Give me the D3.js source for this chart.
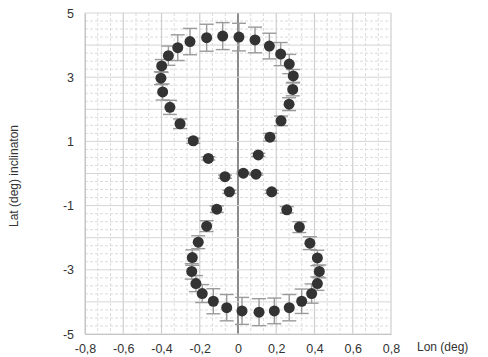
<!DOCTYPE html>
<html>
<head>
<meta charset="utf-8">
<script src="https://cdn.jsdelivr.net/npm/d3@7"></script>
<style>
  body { margin: 0; background: #fff; }
  svg { font-family: "Liberation Sans", Arial, sans-serif; }
</style>
</head>
<body>
<div id="chart"></div>
<script>
const width = 488;
const height = 357;

// figure-eight positions
const lonValues = [-0.399, -0.403, -0.394, -0.364, -0.356, -0.315, -0.303, -0.251, -0.234, -0.164,
  -0.155, -0.080, -0.068, 0.005, 0.028, 0.089, 0.094, 0.106, 0.164, 0.167,
  0.223, 0.225, 0.268, 0.267, 0.289, 0.286,
  -0.045, 0.176, -0.111, 0.255, -0.164, 0.321, -0.208, 0.376, -0.239, 0.415,
  -0.242, 0.425, -0.220, 0.415, -0.187, 0.385, -0.129, 0.333, -0.059, 0.268,
  0.021, 0.190, 0.110];
const latValues = [3.35, 2.97, 2.54, 3.67, 2.06, 3.92, 1.55, 4.11, 1.02, 4.23,
  0.47, 4.28, -0.10, 4.25, 0.01, 4.16, -0.02, 0.58, 3.97, 1.13,
  3.72, 1.64, 3.41, 2.16, 3.04, 2.62,
  -0.57, -0.57, -1.11, -1.13, -1.64, -1.67, -2.14, -2.17, -2.62, -2.63,
  -3.05, -3.05, -3.43, -3.43, -3.74, -3.74, -3.98, -3.98, -4.18, -4.18,
  -4.28, -4.28, -4.32];
const latErrors = [0.2, 0.2, 0.25, 0.3, 0.22, 0.4, 0.15, 0.41, 0.08, 0.42,
  0.05, 0.42, 0.05, 0.43, 0.03, 0.4, 0.03, 0.05, 0.4, 0.12,
  0.36, 0.15, 0.3, 0.2, 0.2, 0.2,
  0.05, 0.05, 0.1, 0.1, 0.17, 0.17, 0.2, 0.2, 0.24, 0.24,
  0.24, 0.2, 0.25, 0.21, 0.28, 0.3, 0.39, 0.38, 0.41, 0.41,
  0.42, 0.4, 0.42];

const xTicks = [-0.8, -0.6, -0.4, -0.2, 0, 0.2, 0.4, 0.6, 0.8];
const yTicks = [-5, -3, -1, 1, 3, 5];

const points = lonValues.map((d, i) => ({lon: d, lat: latValues[i], err: latErrors[i]}));

const locale = d3.formatLocale({decimal: ",", thousands: ".", grouping: [3], currency: ["", ""], minus: "-"});
const fmt = locale.format("~g");

const svg = d3.select("#chart")
  .append("svg")
  .attr("width", width)
  .attr("height", height);

var x = d3.scaleLinear().domain([-0.8, 0.8]).range([85, 391]);
var y = d3.scaleLinear().domain([-5, 5]).range([334, 13]);

// minor grid (dashed)
const xMinor = d3.range(0, 25).map(i => -0.8 + i * 0.2 / 3).filter((d, i) => i % 3 != 0);
const yMinor = d3.range(0, 41).map(i => -5 + i * 0.25).filter((d, i) => i % 4 != 0);

svg.append("g").selectAll("line")
  .data(xMinor)
  .enter().append("line")
    .attr("x1", d => x(d)).attr("x2", d => x(d))
    .attr("y1", y(5)).attr("y2", y(-5))
    .attr("stroke", "#dcdcdc")
    .attr("stroke-dasharray", "3,2");

svg.append("g").selectAll("line")
  .data(yMinor)
  .enter().append("line")
    .attr("x1", x(-0.8)).attr("x2", x(0.8))
    .attr("y1", d => y(d)).attr("y2", d => y(d))
    .attr("stroke", "#dcdcdc")
    .attr("stroke-dasharray", "3,2");

// major grid
svg.append("g").selectAll("line")
  .data(xTicks)
  .enter().append("line")
    .attr("x1", d => x(d)).attr("x2", d => x(d))
    .attr("y1", y(5)).attr("y2", y(-5))
    .attr("stroke", d => d == 0 ? "#8c8c8c" : "#cfcfcf")
    .attr("stroke-width", d => d == 0 ? 2 : 1.2);

svg.append("g").selectAll("line")
  .data(d3.range(-5, 6, 1))
  .enter().append("line")
    .attr("x1", x(-0.8)).attr("x2", x(0.8))
    .attr("y1", d => y(d)).attr("y2", d => y(d))
    .attr("stroke", "#d6d6d6")
    .attr("stroke-width", 1);

// axes
svg.append("g")
  .attr("transform", "translate(0," + y(-5) + ")")
  .call(d3.axisBottom(x).tickValues(xTicks).tickSize(0).tickPadding(10).tickFormat(fmt))
  .call(g => g.select(".domain").attr("stroke", "#c4c4c4"))
  .call(g => g.selectAll("text").attr("fill", "#333").attr("font-size", "12.5px").attr("font-family", "Liberation Sans, Arial, sans-serif"));

svg.append("g")
  .attr("transform", "translate(" + x(-0.8) + ",0)")
  .call(d3.axisLeft(y).tickValues(yTicks).tickSize(0).tickPadding(11).tickFormat(fmt))
  .call(g => g.select(".domain").attr("stroke", "#c4c4c4"))
  .call(g => g.selectAll("text").attr("fill", "#333").attr("font-size", "12.5px").attr("font-family", "Liberation Sans, Arial, sans-serif"));

// axis labels
svg.append("text")
  .attr("x", 417)
  .attr("y", 351)
  .attr("font-size", "12px")
  .attr("fill", "#333")
  .text("Lon (deg)");

svg.append("text")
  .attr("transform", "translate(18," + 176 + ") rotate(-90)")
  .attr("text-anchor", "middle")
  .attr("font-family", "Liberation Sans Narrow, Liberation Sans, Arial, sans-serif")
  .attr("font-size", "12px")
  .attr("fill", "#333")
  .text("Lat (deg) inclinaton");

// error bars
const bars = svg.append("g").attr("stroke", "#9a9a9a").attr("stroke-width", 1.4);
bars.selectAll(".stem")
  .data(points)
  .enter().append("line")
    .attr("x1", d => x(d.lon)).attr("x2", d => x(d.lon))
    .attr("y1", d => y(d.lat + d.err)).attr("y2", d => y(d.lat - d.err));
bars.selectAll(".capTop")
  .data(points)
  .enter().append("line")
    .attr("x1", d => x(d.lon) - 7).attr("x2", d => x(d.lon) + 7)
    .attr("y1", d => y(d.lat + d.err)).attr("y2", d => y(d.lat + d.err));
bars.selectAll(".capBottom")
  .data(points)
  .enter().append("line")
    .attr("x1", d => x(d.lon) - 7).attr("x2", d => x(d.lon) + 7)
    .attr("y1", d => y(d.lat - d.err)).attr("y2", d => y(d.lat - d.err));

// points
svg.append("g").selectAll("circle")
  .data(points)
  .enter().append("circle")
    .attr("cx", d => x(d.lon))
    .attr("cy", d => y(d.lat))
    .attr("r", 5.5)
    .style("fill", "#333");
</script>
</body>
</html>
